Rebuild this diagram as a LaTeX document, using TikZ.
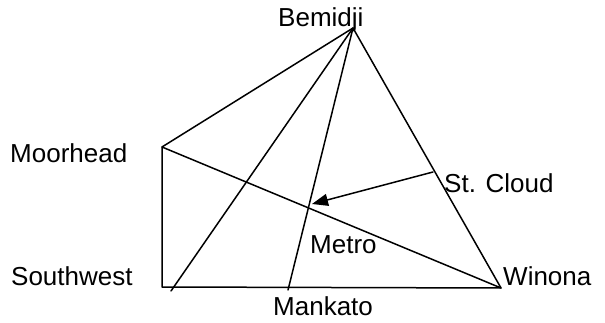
\documentclass[tikz,border=0pt]{standalone}
\usepackage{fontspec}
\setmainfont{Liberation Sans}
\usetikzlibrary{arrows.meta}
\begin{document}
\begin{tikzpicture}[x=1pt, y=-1pt, font=\fontsize{26}{30}\selectfont,
  city/.style={anchor=base west, inner sep=0pt},
  road/.style={line width=1.5pt, line cap=round, line join=round},
  arr/.style={road, -{Triangle[length=16pt, width=12pt]}}]
\useasboundingbox (0,0) rectangle (605,323);
% points of the network
\coordinate (bem) at (353,28);
\coordinate (moor) at (162,147);
\coordinate (sw) at (162,287);
\coordinate (swx) at (171,291);
\coordinate (mank) at (288,290);
\coordinate (win) at (501,288);
\coordinate (stc) at (433,172);
\coordinate (met) at (312,204);
% city names
\node[city] (bemidji) at (278,27) {Bemidji};
\node[city] (moorhead) at (10,163) {Moorhead};
\node[city] (southwest) at (11,285) {Southwest};
\node[city] (stcloud) at (444,193) {St. Cloud};
\node[city] (winona) at (503,285) {Winona};
\node[city] (metro) at (310,253) {Metro};
\node[city] (mankato) at (273,315) {Mankato};
% links
\draw[road] (bem) -- (moor) -- (sw) -- (win) -- cycle;
\draw[road] (moor) -- (win);
\draw[road] (bem) -- (swx);
\draw[road] (bem) -- (mank);
\draw[arr] (stc) -- (met);
\end{tikzpicture}
\end{document}
